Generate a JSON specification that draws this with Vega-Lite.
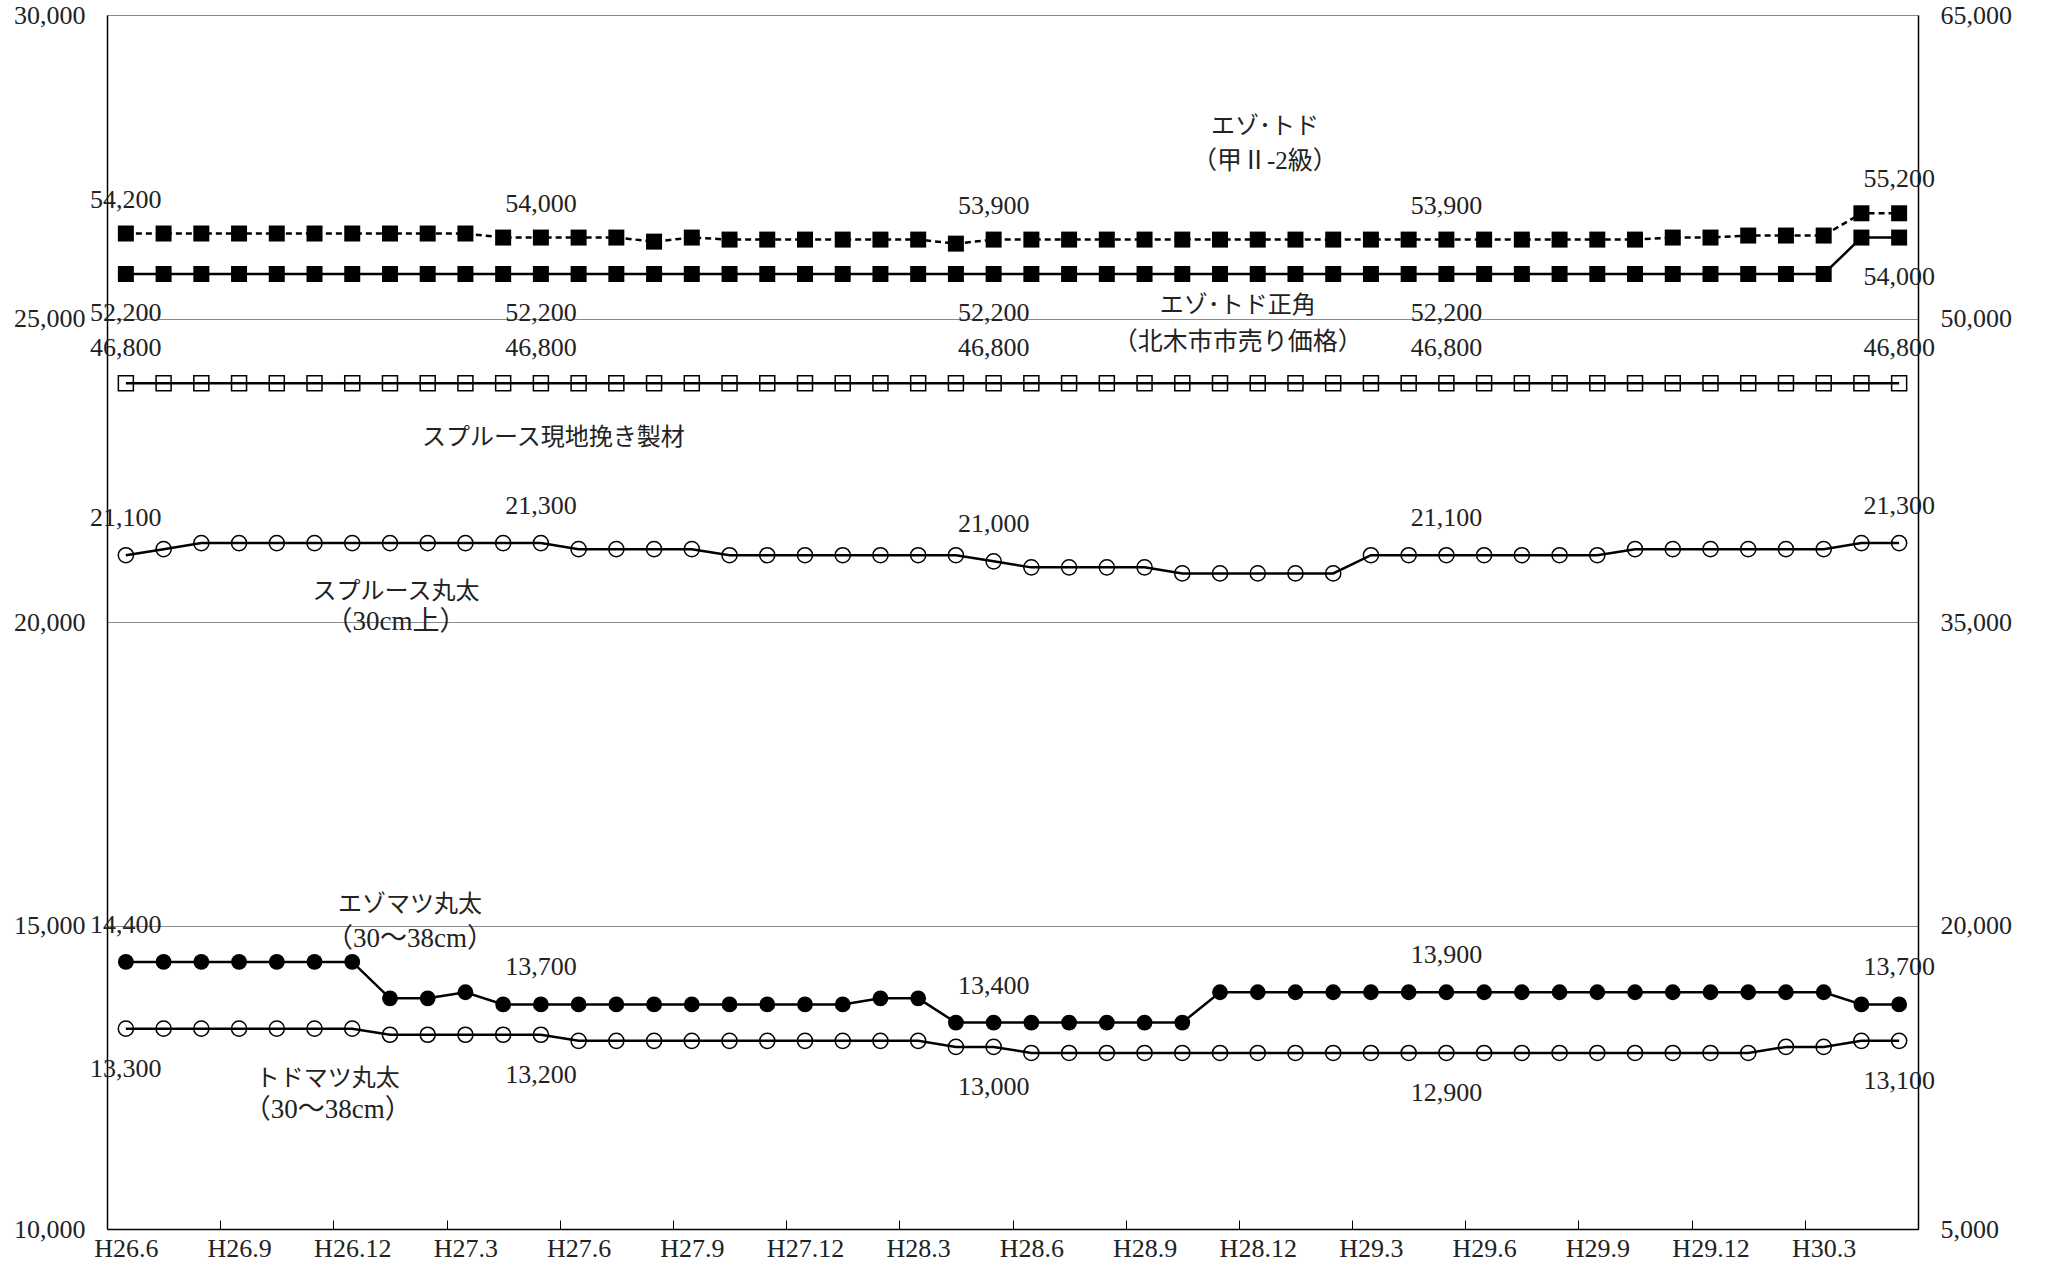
{
  "$schema": "https://vega.github.io/schema/vega-lite/v6.json",
  "width": 1811,
  "height": 1214,
  "autosize": {"type": "none"},
  "padding": {"left": 107, "top": 15, "right": 129, "bottom": 42},
  "background": "white",
  "config": {
    "view": {"stroke": null},
    "font": "Liberation Serif, Noto Sans CJK JP",
    "text": {"font": "Liberation Serif, Noto Sans CJK JP", "color": "#222"}
  },
  "datasets": {
    "prices": [
      {"t":0,"series":"spruce","price":21100},{"t":1,"series":"spruce","price":21200},{"t":2,"series":"spruce","price":21300},{"t":3,"series":"spruce","price":21300},{"t":4,"series":"spruce","price":21300},{"t":5,"series":"spruce","price":21300},{"t":6,"series":"spruce","price":21300},{"t":7,"series":"spruce","price":21300},{"t":8,"series":"spruce","price":21300},{"t":9,"series":"spruce","price":21300},{"t":10,"series":"spruce","price":21300},{"t":11,"series":"spruce","price":21300},{"t":12,"series":"spruce","price":21200},{"t":13,"series":"spruce","price":21200},{"t":14,"series":"spruce","price":21200},{"t":15,"series":"spruce","price":21200},{"t":16,"series":"spruce","price":21100},{"t":17,"series":"spruce","price":21100},{"t":18,"series":"spruce","price":21100},{"t":19,"series":"spruce","price":21100},{"t":20,"series":"spruce","price":21100},{"t":21,"series":"spruce","price":21100},{"t":22,"series":"spruce","price":21100},{"t":23,"series":"spruce","price":21000},{"t":24,"series":"spruce","price":20900},{"t":25,"series":"spruce","price":20900},{"t":26,"series":"spruce","price":20900},{"t":27,"series":"spruce","price":20900},{"t":28,"series":"spruce","price":20800},{"t":29,"series":"spruce","price":20800},{"t":30,"series":"spruce","price":20800},{"t":31,"series":"spruce","price":20800},{"t":32,"series":"spruce","price":20800},{"t":33,"series":"spruce","price":21100},{"t":34,"series":"spruce","price":21100},{"t":35,"series":"spruce","price":21100},{"t":36,"series":"spruce","price":21100},{"t":37,"series":"spruce","price":21100},{"t":38,"series":"spruce","price":21100},{"t":39,"series":"spruce","price":21100},{"t":40,"series":"spruce","price":21200},{"t":41,"series":"spruce","price":21200},{"t":42,"series":"spruce","price":21200},{"t":43,"series":"spruce","price":21200},{"t":44,"series":"spruce","price":21200},{"t":45,"series":"spruce","price":21200},{"t":46,"series":"spruce","price":21300},{"t":47,"series":"spruce","price":21300},
      {"t":0,"series":"ezo","price":14400},{"t":1,"series":"ezo","price":14400},{"t":2,"series":"ezo","price":14400},{"t":3,"series":"ezo","price":14400},{"t":4,"series":"ezo","price":14400},{"t":5,"series":"ezo","price":14400},{"t":6,"series":"ezo","price":14400},{"t":7,"series":"ezo","price":13800},{"t":8,"series":"ezo","price":13800},{"t":9,"series":"ezo","price":13900},{"t":10,"series":"ezo","price":13700},{"t":11,"series":"ezo","price":13700},{"t":12,"series":"ezo","price":13700},{"t":13,"series":"ezo","price":13700},{"t":14,"series":"ezo","price":13700},{"t":15,"series":"ezo","price":13700},{"t":16,"series":"ezo","price":13700},{"t":17,"series":"ezo","price":13700},{"t":18,"series":"ezo","price":13700},{"t":19,"series":"ezo","price":13700},{"t":20,"series":"ezo","price":13800},{"t":21,"series":"ezo","price":13800},{"t":22,"series":"ezo","price":13400},{"t":23,"series":"ezo","price":13400},{"t":24,"series":"ezo","price":13400},{"t":25,"series":"ezo","price":13400},{"t":26,"series":"ezo","price":13400},{"t":27,"series":"ezo","price":13400},{"t":28,"series":"ezo","price":13400},{"t":29,"series":"ezo","price":13900},{"t":30,"series":"ezo","price":13900},{"t":31,"series":"ezo","price":13900},{"t":32,"series":"ezo","price":13900},{"t":33,"series":"ezo","price":13900},{"t":34,"series":"ezo","price":13900},{"t":35,"series":"ezo","price":13900},{"t":36,"series":"ezo","price":13900},{"t":37,"series":"ezo","price":13900},{"t":38,"series":"ezo","price":13900},{"t":39,"series":"ezo","price":13900},{"t":40,"series":"ezo","price":13900},{"t":41,"series":"ezo","price":13900},{"t":42,"series":"ezo","price":13900},{"t":43,"series":"ezo","price":13900},{"t":44,"series":"ezo","price":13900},{"t":45,"series":"ezo","price":13900},{"t":46,"series":"ezo","price":13700},{"t":47,"series":"ezo","price":13700},
      {"t":0,"series":"todo","price":13300},{"t":1,"series":"todo","price":13300},{"t":2,"series":"todo","price":13300},{"t":3,"series":"todo","price":13300},{"t":4,"series":"todo","price":13300},{"t":5,"series":"todo","price":13300},{"t":6,"series":"todo","price":13300},{"t":7,"series":"todo","price":13200},{"t":8,"series":"todo","price":13200},{"t":9,"series":"todo","price":13200},{"t":10,"series":"todo","price":13200},{"t":11,"series":"todo","price":13200},{"t":12,"series":"todo","price":13100},{"t":13,"series":"todo","price":13100},{"t":14,"series":"todo","price":13100},{"t":15,"series":"todo","price":13100},{"t":16,"series":"todo","price":13100},{"t":17,"series":"todo","price":13100},{"t":18,"series":"todo","price":13100},{"t":19,"series":"todo","price":13100},{"t":20,"series":"todo","price":13100},{"t":21,"series":"todo","price":13100},{"t":22,"series":"todo","price":13000},{"t":23,"series":"todo","price":13000},{"t":24,"series":"todo","price":12900},{"t":25,"series":"todo","price":12900},{"t":26,"series":"todo","price":12900},{"t":27,"series":"todo","price":12900},{"t":28,"series":"todo","price":12900},{"t":29,"series":"todo","price":12900},{"t":30,"series":"todo","price":12900},{"t":31,"series":"todo","price":12900},{"t":32,"series":"todo","price":12900},{"t":33,"series":"todo","price":12900},{"t":34,"series":"todo","price":12900},{"t":35,"series":"todo","price":12900},{"t":36,"series":"todo","price":12900},{"t":37,"series":"todo","price":12900},{"t":38,"series":"todo","price":12900},{"t":39,"series":"todo","price":12900},{"t":40,"series":"todo","price":12900},{"t":41,"series":"todo","price":12900},{"t":42,"series":"todo","price":12900},{"t":43,"series":"todo","price":12900},{"t":44,"series":"todo","price":13000},{"t":45,"series":"todo","price":13000},{"t":46,"series":"todo","price":13100},{"t":47,"series":"todo","price":13100}
    ],
    "lumber": [
      {"t":0,"series":"kou","price":54200},{"t":1,"series":"kou","price":54200},{"t":2,"series":"kou","price":54200},{"t":3,"series":"kou","price":54200},{"t":4,"series":"kou","price":54200},{"t":5,"series":"kou","price":54200},{"t":6,"series":"kou","price":54200},{"t":7,"series":"kou","price":54200},{"t":8,"series":"kou","price":54200},{"t":9,"series":"kou","price":54200},{"t":10,"series":"kou","price":54000},{"t":11,"series":"kou","price":54000},{"t":12,"series":"kou","price":54000},{"t":13,"series":"kou","price":54000},{"t":14,"series":"kou","price":53800},{"t":15,"series":"kou","price":54000},{"t":16,"series":"kou","price":53900},{"t":17,"series":"kou","price":53900},{"t":18,"series":"kou","price":53900},{"t":19,"series":"kou","price":53900},{"t":20,"series":"kou","price":53900},{"t":21,"series":"kou","price":53900},{"t":22,"series":"kou","price":53700},{"t":23,"series":"kou","price":53900},{"t":24,"series":"kou","price":53900},{"t":25,"series":"kou","price":53900},{"t":26,"series":"kou","price":53900},{"t":27,"series":"kou","price":53900},{"t":28,"series":"kou","price":53900},{"t":29,"series":"kou","price":53900},{"t":30,"series":"kou","price":53900},{"t":31,"series":"kou","price":53900},{"t":32,"series":"kou","price":53900},{"t":33,"series":"kou","price":53900},{"t":34,"series":"kou","price":53900},{"t":35,"series":"kou","price":53900},{"t":36,"series":"kou","price":53900},{"t":37,"series":"kou","price":53900},{"t":38,"series":"kou","price":53900},{"t":39,"series":"kou","price":53900},{"t":40,"series":"kou","price":53900},{"t":41,"series":"kou","price":54000},{"t":42,"series":"kou","price":54000},{"t":43,"series":"kou","price":54100},{"t":44,"series":"kou","price":54100},{"t":45,"series":"kou","price":54100},{"t":46,"series":"kou","price":55200},{"t":47,"series":"kou","price":55200},
      {"t":0,"series":"seikaku","price":52200},{"t":1,"series":"seikaku","price":52200},{"t":2,"series":"seikaku","price":52200},{"t":3,"series":"seikaku","price":52200},{"t":4,"series":"seikaku","price":52200},{"t":5,"series":"seikaku","price":52200},{"t":6,"series":"seikaku","price":52200},{"t":7,"series":"seikaku","price":52200},{"t":8,"series":"seikaku","price":52200},{"t":9,"series":"seikaku","price":52200},{"t":10,"series":"seikaku","price":52200},{"t":11,"series":"seikaku","price":52200},{"t":12,"series":"seikaku","price":52200},{"t":13,"series":"seikaku","price":52200},{"t":14,"series":"seikaku","price":52200},{"t":15,"series":"seikaku","price":52200},{"t":16,"series":"seikaku","price":52200},{"t":17,"series":"seikaku","price":52200},{"t":18,"series":"seikaku","price":52200},{"t":19,"series":"seikaku","price":52200},{"t":20,"series":"seikaku","price":52200},{"t":21,"series":"seikaku","price":52200},{"t":22,"series":"seikaku","price":52200},{"t":23,"series":"seikaku","price":52200},{"t":24,"series":"seikaku","price":52200},{"t":25,"series":"seikaku","price":52200},{"t":26,"series":"seikaku","price":52200},{"t":27,"series":"seikaku","price":52200},{"t":28,"series":"seikaku","price":52200},{"t":29,"series":"seikaku","price":52200},{"t":30,"series":"seikaku","price":52200},{"t":31,"series":"seikaku","price":52200},{"t":32,"series":"seikaku","price":52200},{"t":33,"series":"seikaku","price":52200},{"t":34,"series":"seikaku","price":52200},{"t":35,"series":"seikaku","price":52200},{"t":36,"series":"seikaku","price":52200},{"t":37,"series":"seikaku","price":52200},{"t":38,"series":"seikaku","price":52200},{"t":39,"series":"seikaku","price":52200},{"t":40,"series":"seikaku","price":52200},{"t":41,"series":"seikaku","price":52200},{"t":42,"series":"seikaku","price":52200},{"t":43,"series":"seikaku","price":52200},{"t":44,"series":"seikaku","price":52200},{"t":45,"series":"seikaku","price":52200},{"t":46,"series":"seikaku","price":54000},{"t":47,"series":"seikaku","price":54000},
      {"t":0,"series":"seizai","price":46800},{"t":1,"series":"seizai","price":46800},{"t":2,"series":"seizai","price":46800},{"t":3,"series":"seizai","price":46800},{"t":4,"series":"seizai","price":46800},{"t":5,"series":"seizai","price":46800},{"t":6,"series":"seizai","price":46800},{"t":7,"series":"seizai","price":46800},{"t":8,"series":"seizai","price":46800},{"t":9,"series":"seizai","price":46800},{"t":10,"series":"seizai","price":46800},{"t":11,"series":"seizai","price":46800},{"t":12,"series":"seizai","price":46800},{"t":13,"series":"seizai","price":46800},{"t":14,"series":"seizai","price":46800},{"t":15,"series":"seizai","price":46800},{"t":16,"series":"seizai","price":46800},{"t":17,"series":"seizai","price":46800},{"t":18,"series":"seizai","price":46800},{"t":19,"series":"seizai","price":46800},{"t":20,"series":"seizai","price":46800},{"t":21,"series":"seizai","price":46800},{"t":22,"series":"seizai","price":46800},{"t":23,"series":"seizai","price":46800},{"t":24,"series":"seizai","price":46800},{"t":25,"series":"seizai","price":46800},{"t":26,"series":"seizai","price":46800},{"t":27,"series":"seizai","price":46800},{"t":28,"series":"seizai","price":46800},{"t":29,"series":"seizai","price":46800},{"t":30,"series":"seizai","price":46800},{"t":31,"series":"seizai","price":46800},{"t":32,"series":"seizai","price":46800},{"t":33,"series":"seizai","price":46800},{"t":34,"series":"seizai","price":46800},{"t":35,"series":"seizai","price":46800},{"t":36,"series":"seizai","price":46800},{"t":37,"series":"seizai","price":46800},{"t":38,"series":"seizai","price":46800},{"t":39,"series":"seizai","price":46800},{"t":40,"series":"seizai","price":46800},{"t":41,"series":"seizai","price":46800},{"t":42,"series":"seizai","price":46800},{"t":43,"series":"seizai","price":46800},{"t":44,"series":"seizai","price":46800},{"t":45,"series":"seizai","price":46800},{"t":46,"series":"seizai","price":46800},{"t":47,"series":"seizai","price":46800}
    ],
    "notesLeft": [
      {"t":7.16,"price":20494,"label":"スプルース丸太"},
      {"t":7.16,"price":20000,"label":"（30cm上）"},
      {"t":7.53,"price":15338,"label":"エゾマツ丸太"},
      {"t":7.53,"price":14778,"label":"（30～38cm）"},
      {"t":5.35,"price":12471,"label":"トドマツ丸太"},
      {"t":5.35,"price":11960,"label":"（30～38cm）"}
    ],
    "notesRight": [
      {"t":30.19,"price":59470,"label":"エゾ･トド"},
      {"t":30.19,"price":57790,"label":"（甲Ⅱ-2級）"},
      {"t":29.47,"price":50620,"label":"エゾ･トド正角"},
      {"t":29.47,"price":48840,"label":"（北木市市売り価格）"},
      {"t":11.33,"price":44090,"label":"スプルース現地挽き製材"}
    ]
  },
  "encoding": {
    "x": {
      "field": "t",
      "type": "quantitative",
      "scale": {"domain": [-0.5, 47.5], "nice": false, "zero": false},
      "axis": {
        "values": [2.5, 5.5, 8.5, 11.5, 14.5, 17.5, 20.5, 23.5, 26.5, 29.5, 32.5, 35.5, 38.5, 41.5, 44.5, 47.5],
        "labelExpr": "['H26.6','H26.9','H26.12','H27.3','H27.6','H27.9','H27.12','H28.3','H28.6','H28.9','H28.12','H29.3','H29.6','H29.9','H29.12','H30.3'][round((datum.value - 2.5) / 3)]",
        "labelOffset": -94.32,
        "tickSize": -9,
        "tickColor": "black",
        "tickWidth": 1,
        "labelPadding": 15,
        "labelFlush": false,
        "labelOverlap": false,
        "labelBound": false,
        "grid": false,
        "domainColor": "black",
        "domainWidth": 1.5,
        "labelFont": "Liberation Serif",
        "labelFontSize": 26,
        "labelColor": "#222",
        "title": null
      }
    }
  },
  "layer": [
    {
      "data": {"name": "prices"},
      "encoding": {
        "y": {
          "field": "price",
          "type": "quantitative",
          "scale": {"domain": [10000, 30000], "nice": false, "zero": false},
          "axis": {
            "orient": "left",
            "values": [10000, 15000, 20000, 25000, 30000],
            "format": ",d",
            "grid": true,
            "gridColor": "#8a8a8a",
            "gridWidth": 1.2,
            "ticks": false,
            "domainColor": "black",
            "domainWidth": 1.5,
            "labelPadding": 22,
            "labelFlush": false,
            "labelOverlap": false,
            "labelFont": "Liberation Serif",
            "labelFontSize": 26,
            "labelColor": "#222",
            "title": null
          }
        }
      },
      "layer": [
        {
          "mark": {"type": "line", "color": "black", "strokeWidth": 2.5},
          "encoding": {"detail": {"field": "series"}}
        },
        {
          "transform": [{"filter": "datum.series == 'ezo'"}],
          "mark": {"type": "point", "shape": "circle", "filled": true, "color": "black", "size": 250, "opacity": 1}
        },
        {
          "transform": [{"filter": "datum.series != 'ezo'"}],
          "mark": {"type": "point", "shape": "circle", "filled": false, "color": "black", "size": 230, "strokeWidth": 1.5, "opacity": 1}
        },
        {
          "transform": [{"filter": "datum.series != 'todo' && indexof([0, 11, 23, 35, 47], datum.t) >= 0"}],
          "mark": {"type": "text", "dy": -37, "fontSize": 26, "font": "Liberation Serif", "color": "#222"},
          "encoding": {"text": {"field": "price", "format": ",d"}}
        },
        {
          "transform": [{"filter": "datum.series == 'todo' && indexof([0, 11, 23, 35, 47], datum.t) >= 0"}],
          "mark": {"type": "text", "dy": 40, "fontSize": 26, "font": "Liberation Serif", "color": "#222"},
          "encoding": {"text": {"field": "price", "format": ",d"}}
        },
        {
          "data": {"name": "notesLeft"},
          "transform": [{"filter": "indexof(datum.label, '（') != 0"}],
          "mark": {"type": "text", "fontSize": 24, "color": "#222"},
          "encoding": {"text": {"field": "label"}}
        },
        {
          "data": {"name": "notesLeft"},
          "transform": [{"filter": "indexof(datum.label, '（') == 0"}],
          "mark": {"type": "text", "fontSize": 27, "color": "#222"},
          "encoding": {"text": {"field": "label"}}
        }
      ]
    },
    {
      "data": {"name": "lumber"},
      "encoding": {
        "y": {
          "field": "price",
          "type": "quantitative",
          "scale": {"domain": [5000, 65000], "nice": false, "zero": false},
          "axis": {
            "orient": "right",
            "values": [5000, 20000, 35000, 50000, 65000],
            "format": ",d",
            "grid": false,
            "ticks": false,
            "domainColor": "black",
            "domainWidth": 1.5,
            "labelPadding": 22,
            "labelFlush": false,
            "labelOverlap": false,
            "labelFont": "Liberation Serif",
            "labelFontSize": 26,
            "labelColor": "#222",
            "title": null
          }
        }
      },
      "layer": [
        {
          "transform": [{"filter": "datum.series != 'kou'"}],
          "mark": {"type": "line", "color": "black", "strokeWidth": 2.5},
          "encoding": {"detail": {"field": "series"}}
        },
        {
          "transform": [{"filter": "datum.series == 'kou'"}],
          "mark": {"type": "line", "color": "black", "strokeWidth": 2.5, "strokeDash": [6, 4]}
        },
        {
          "transform": [{"filter": "datum.series != 'seizai'"}],
          "mark": {"type": "point", "shape": "square", "filled": true, "color": "black", "size": 256, "opacity": 1}
        },
        {
          "transform": [{"filter": "datum.series == 'seizai'"}],
          "mark": {"type": "point", "shape": "square", "filled": false, "color": "black", "size": 225, "strokeWidth": 1.5, "opacity": 1}
        },
        {
          "transform": [{"filter": "datum.series == 'kou' && indexof([0, 11, 23, 35, 47], datum.t) >= 0"}],
          "mark": {"type": "text", "dy": -34, "fontSize": 26, "font": "Liberation Serif", "color": "#222"},
          "encoding": {"text": {"field": "price", "format": ",d"}}
        },
        {
          "transform": [{"filter": "datum.series == 'seikaku' && indexof([0, 11, 23, 35, 47], datum.t) >= 0"}],
          "mark": {"type": "text", "dy": 39, "fontSize": 26, "font": "Liberation Serif", "color": "#222"},
          "encoding": {"text": {"field": "price", "format": ",d"}}
        },
        {
          "transform": [{"filter": "datum.series == 'seizai' && indexof([0, 11, 23, 35, 47], datum.t) >= 0"}],
          "mark": {"type": "text", "dy": -35, "fontSize": 26, "font": "Liberation Serif", "color": "#222"},
          "encoding": {"text": {"field": "price", "format": ",d"}}
        },
        {
          "data": {"name": "notesRight"},
          "transform": [{"filter": "indexof(datum.label, '（') != 0"}],
          "mark": {"type": "text", "fontSize": 24, "color": "#222"},
          "encoding": {"text": {"field": "label"}}
        },
        {
          "data": {"name": "notesRight"},
          "transform": [{"filter": "indexof(datum.label, '（') == 0"}],
          "mark": {"type": "text", "fontSize": 25, "color": "#222"},
          "encoding": {"text": {"field": "label"}}
        }
      ]
    }
  ],
  "resolve": {"scale": {"y": "independent"}}
}
